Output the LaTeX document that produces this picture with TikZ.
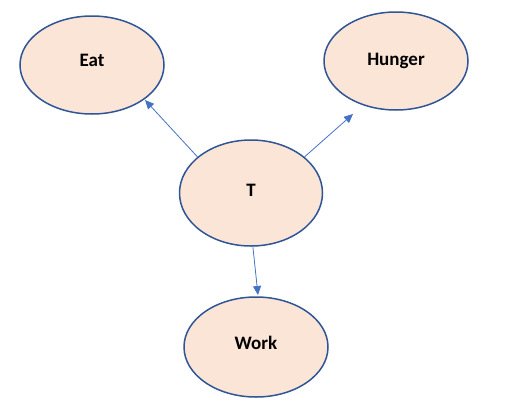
\documentclass[tikz,border=0pt]{standalone}
\usepackage{fontspec}
\setmainfont{Carlito}
\usetikzlibrary{arrows.meta,shapes.geometric}
\definecolor{ellfill}{HTML}{FBE5D6}
\definecolor{elldraw}{HTML}{2F5597}
\definecolor{arr}{HTML}{4472C4}
\tikzset{
  ell/.style={ellipse, draw=elldraw, fill=ellfill, line width=1.5pt, minimum width=144pt, minimum height=98pt, inner sep=0pt, font=\fontsize{19}{21}\selectfont\bfseries},
  conn/.style={draw=arr, line width=0.8pt, -{Triangle[length=9pt,width=8pt]}}
}
\begin{document}
\begin{tikzpicture}[x=1pt,y=-1pt]
\useasboundingbox (0,0) rectangle (506,410);
\node[ell] (eat) at (92,65) {\raisebox{10pt}{Eat}};
\node[ell] (hunger) at (396,61) {\raisebox{3pt}{Hunger}};
\node[ell, minimum width=143pt, minimum height=106pt] (t) at (251,193) {\raisebox{6pt}{T}};
\node[ell, minimum height=100pt] (work) at (256,347) {\raisebox{8pt}{Work}};
\coordinate (eatend) at (145,100);
\coordinate (hungerend) at (353,114);
\coordinate (workend) at (258,295);
\draw[conn] (t.146) -- (eatend);
\draw[conn] (t.34) -- (hungerend);
\draw[conn] (t.272) -- (workend);
\end{tikzpicture}
\end{document}
